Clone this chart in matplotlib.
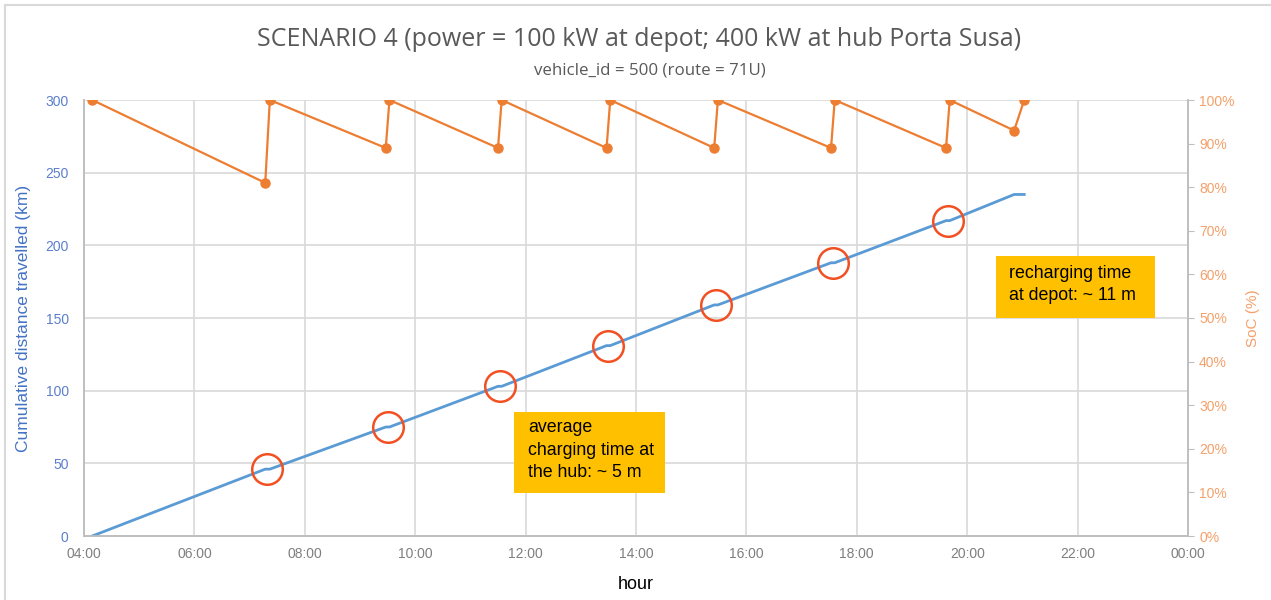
import matplotlib
matplotlib.use('Agg')
import matplotlib.pyplot as plt
from matplotlib.ticker import MultipleLocator, PercentFormatter
from matplotlib.patches import Rectangle

# --- data ---
soc_times = ['04:09', '07:17', '07:22', '09:28', '09:32', '11:30', '11:34', '13:28', '13:32',
             '15:25', '15:29', '17:32', '17:36', '19:37', '19:41', '20:51', '21:02']
soc_values = [100, 81, 100, 89, 100, 89, 100, 89, 100, 89, 100, 89, 100, 89, 100, 93, 100]
dist_km = [0, 46, 46, 75, 75, 103, 103, 131, 131, 159, 159, 188, 188, 217, 217, 235, 235]
hub_stop_times = ['07:19', '09:30', '11:32', '13:30', '15:27', '17:34', '19:39']
hub_stop_km = [46, 75, 103, 131, 159, 188, 217]
xtick_labels = ['04:00', '06:00', '08:00', '10:00', '12:00', '14:00', '16:00',
                '18:00', '20:00', '22:00', '00:00']


def to_hours(t):
    h, m = t.split(':')
    return int(h) + int(m) / 60


soc_x = [to_hours(t) for t in soc_times]
hub_x = [to_hours(t) for t in hub_stop_times]

plt.rcParams['font.family'] = ['Liberation Sans', 'DejaVu Sans']

fig = plt.figure(figsize=(12.71, 6.0), dpi=100)
ax = fig.add_axes([84 / 1271, 64 / 600, 1104 / 1271, 436 / 600])
ax2 = ax.twinx()

# distance line
ax.plot(soc_x, dist_km, color='#5B9BD5', linewidth=2, zorder=3)
ax.plot(hub_x, hub_stop_km, linestyle='none', marker='o', markersize=22,
        markerfacecolor='none', markeredgecolor='#F25022', markeredgewidth=1.8, zorder=4)

# SoC line
ax2.plot(soc_x, [v / 100 for v in soc_values], color='#ED7D31', linewidth=1.6,
         marker='o', markersize=6.5, zorder=3)

# axes styling
ax.set_xlim(4, 24)
ax.set_ylim(0, 300)
ax2.set_ylim(0, 1)
ax.set_xticks(range(4, 25, 2))
ax.set_xticklabels(xtick_labels)
ax.yaxis.set_major_locator(MultipleLocator(50))
ax2.yaxis.set_major_locator(MultipleLocator(0.1))
ax2.yaxis.set_major_formatter(PercentFormatter(1.0, decimals=0))

ax.grid(True, color='#D9D9D9', linewidth=1.2)
ax.set_axisbelow(True)
for a in (ax, ax2):
    a.spines['top'].set_visible(False)
    for s in ('left', 'right', 'bottom'):
        a.spines[s].set_color('#BFBFBF')
        a.spines[s].set_linewidth(1.2)

ax.tick_params(axis='x', length=0, colors='#7F7F7F', labelsize=10, pad=8)
ax.tick_params(axis='y', length=0, labelcolor='#5A7FCC', labelsize=10, pad=11)
ax2.tick_params(axis='y', length=4, color='#BFBFBF', labelcolor='#F4A06A', labelsize=10, pad=4)

ax.set_xlabel('hour', fontsize=13, color='black', labelpad=11)
ax.set_ylabel('Cumulative distance travelled (km)', fontsize=12.5, color='#4472C4', labelpad=10)
ax2.set_ylabel('SoC (%)', fontsize=11, color='#F4A06A', labelpad=8)

# annotation boxes
ax.add_patch(Rectangle((0.3895, 0.0986), 0.1368, 0.1858, transform=ax.transAxes,
                       facecolor='#FFC000', edgecolor='none', zorder=6))
ax.text(0.402, 0.197, 'average\ncharging time at\nthe hub: ~ 5 m', transform=ax.transAxes,
        fontsize=12.8, color='black', va='center', ha='left', linespacing=1.4, zorder=7)
ax.add_patch(Rectangle((0.826, 0.5), 0.144, 0.142, transform=ax.transAxes,
                       facecolor='#FFC000', edgecolor='none', zorder=6))
ax.text(0.838, 0.577, 'recharging time\nat depot: ~ 11 m', transform=ax.transAxes,
        fontsize=12.8, color='black', va='center', ha='left', linespacing=1.4, zorder=7)

# titles
fig.text(0.5025, 0.935, 'SCENARIO 4 (power = 100 kW at depot; 400 kW at hub Porta Susa)',
         ha='center', va='center', fontsize=18, color='#595959', family='Open Sans')
fig.text(0.511, 0.883, 'vehicle_id = 500 (route = 71U)', ha='center', va='center',
         fontsize=12.2, color='#595959', family='Open Sans')

# outer frame
fig.patches.append(Rectangle((5 / 1271, -0.01), 1.02, 1.0 - 5 / 600 + 0.01, transform=fig.transFigure,
                             fill=False, edgecolor='#D9D9D9', linewidth=1.5))

fig.savefig('out.png', dpi=100)
